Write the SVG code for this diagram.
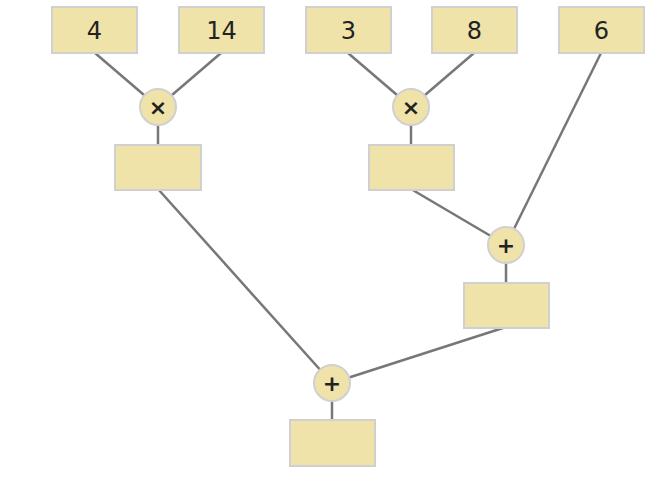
<svg xmlns="http://www.w3.org/2000/svg" width="672" height="487" viewBox="0 0 672 487">
<style>
.b{fill:#efe3a9;stroke:#d0d0d0;stroke-width:2}
.c{fill:#efe3a9;stroke:#d0d0d0;stroke-width:2}
.t{font-family:"DejaVu Sans",sans-serif;font-size:24px;fill:#222;text-anchor:middle}
.o{font-family:"DejaVu Sans",sans-serif;font-size:22px;font-weight:bold;fill:#222;text-anchor:middle}
.l{stroke:#777;stroke-width:2.5;fill:none}
</style>
<rect width="672" height="487" fill="#fff"/>
<g id="connectors">
<line class="l" x1="95" y1="53" x2="158" y2="107"/>
<line class="l" x1="221" y1="53" x2="158" y2="107"/>
<line class="l" x1="158" y1="107" x2="158" y2="146"/>
<line class="l" x1="348" y1="53" x2="411" y2="107"/>
<line class="l" x1="474" y1="53" x2="411" y2="107"/>
<line class="l" x1="411" y1="107" x2="411" y2="146"/>
<line class="l" x1="411" y1="189" x2="506" y2="245"/>
<line class="l" x1="601" y1="53" x2="506" y2="245"/>
<line class="l" x1="506" y1="245" x2="506" y2="284"/>
<line class="l" x1="158" y1="189" x2="332" y2="383"/>
<line class="l" x1="506" y1="327" x2="332" y2="383"/>
<line class="l" x1="332" y1="383" x2="332" y2="421"/>
</g>
<g id="n4"><rect class="b" x="52" y="7" width="85" height="46"/><text class="t" x="94.5" y="39">4</text></g>
<g id="n14"><rect class="b" x="179" y="7" width="85" height="46"/><text class="t" x="221.5" y="39">14</text></g>
<g id="n3"><rect class="b" x="306" y="7" width="85" height="46"/><text class="t" x="348.5" y="39">3</text></g>
<g id="n8"><rect class="b" x="432" y="7" width="85" height="46"/><text class="t" x="474.5" y="39">8</text></g>
<g id="n6"><rect class="b" x="559" y="7" width="85" height="46"/><text class="t" x="601.5" y="39">6</text></g>
<g id="m1"><circle class="c" cx="158" cy="107" r="18"/><text class="o" x="158" y="115">×</text></g>
<g id="m2"><circle class="c" cx="411" cy="107" r="18"/><text class="o" x="411" y="115">×</text></g>
<g id="p1"><circle class="c" cx="506" cy="245" r="18"/><text class="o" x="506" y="253">+</text></g>
<g id="p2"><circle class="c" cx="332" cy="383" r="18"/><text class="o" x="332" y="391">+</text></g>
<g id="r1"><rect class="b" x="115" y="145" width="86" height="45"/></g>
<g id="r2"><rect class="b" x="369" y="145" width="85" height="45"/></g>
<g id="r3"><rect class="b" x="464" y="283" width="85" height="45"/></g>
<g id="r4"><rect class="b" x="290" y="420" width="85" height="46"/></g>
</svg>
